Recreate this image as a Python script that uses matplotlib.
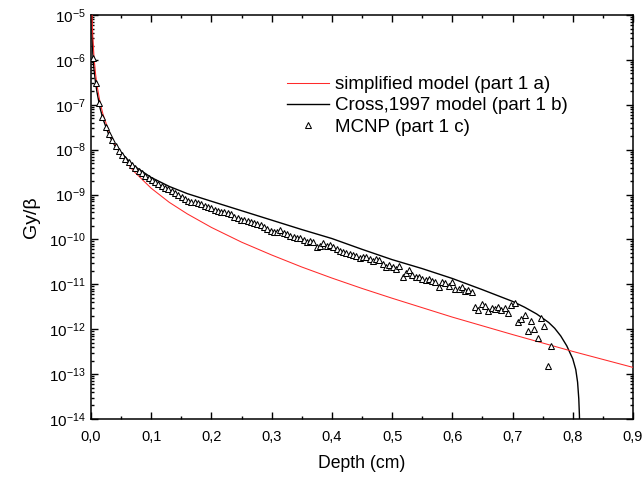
import numpy as np
import matplotlib
matplotlib.use("Agg")
import matplotlib.pyplot as plt
from matplotlib.ticker import FixedLocator, FuncFormatter, LogLocator, NullFormatter, LogFormatterMathtext

plt.rcParams['font.family'] = ['Liberation Sans', 'DejaVu Sans']
plt.rcParams['mathtext.fontset'] = 'custom'
plt.rcParams['mathtext.rm'] = 'Liberation Sans'
plt.rcParams['mathtext.it'] = 'Liberation Sans'
plt.rcParams['mathtext.default'] = 'regular'

# ---- data ----
simplified_depth = [0.001, 0.002, 0.003, 0.005, 0.0075, 0.01, 0.015, 0.02, 0.03, 0.04,
                    0.05, 0.07, 0.10, 0.13, 0.16, 0.20, 0.25, 0.30, 0.35, 0.40,
                    0.45, 0.50, 0.60, 0.70, 0.80, 0.90]
simplified_dose = [3.3e-5, 8.0e-6, 3.4e-6, 1.17e-6, 5.0e-7, 2.7e-7, 1.14e-7, 6.1e-8, 2.5e-8, 1.3e-8,
                   7.7e-9, 3.4e-9, 1.38e-9, 6.7e-10, 3.7e-10, 1.85e-10, 8.7e-11, 4.5e-11, 2.43e-11, 1.38e-11,
                   8.1e-12, 4.9e-12, 1.86e-12, 7.6e-13, 3.2e-13, 1.41e-13]

cross_depth = [0.001, 0.002, 0.003, 0.005, 0.0075, 0.01, 0.015, 0.02, 0.03, 0.04,
               0.05, 0.07, 0.10, 0.13, 0.16, 0.20, 0.25, 0.30, 0.35, 0.40,
               0.45, 0.50, 0.55, 0.60, 0.65, 0.70, 0.72, 0.74, 0.76, 0.77,
               0.78, 0.79, 0.80, 0.805, 0.808, 0.810, 0.811, 0.812]
cross_log10_dose = [-4.6, -5.4, -5.85, -6.2, -6.5, -6.72, -7.07, -7.32, -7.68, -7.92,
                    -8.07, -8.35, -8.62, -8.82, -8.98, -9.15, -9.36, -9.57, -9.78, -9.98,
                    -10.22, -10.45, -10.65, -10.87, -11.12, -11.38, -11.51, -11.66, -11.85, -11.98,
                    -12.15, -12.37, -12.66, -12.90, -13.18, -13.55, -13.9, -14.4]

mcnp_first_depth = 0.0025
mcnp_last_depth = 0.7637
mcnp_log10_dose = [
    -5.96, -6.52, -6.96, -7.28, -7.50, -7.66, -7.79, -7.92, -8.02, -8.11,
    -8.20, -8.27, -8.35, -8.41, -8.47, -8.53, -8.58, -8.63, -8.67, -8.72,
    -8.76, -8.81, -8.85, -8.88, -8.92, -8.96, -9.00, -9.06, -9.11, -9.135,
    -9.157, -9.172, -9.195, -9.217, -9.246, -9.268, -9.29, -9.343, -9.358, -9.38,
    -9.40, -9.417, -9.44, -9.506, -9.528, -9.565, -9.565, -9.588, -9.61, -9.625,
    -9.655, -9.677, -9.714, -9.766, -9.81, -9.825, -9.825, -9.788, -9.848, -9.877,
    -9.915, -9.952, -9.96, -9.974, -10.01, -10.064, -10.034, -10.05, -10.175, -10.145,
    -10.086, -10.145, -10.12, -10.175, -10.22, -10.25, -10.27, -10.31, -10.322, -10.345,
    -10.367, -10.405, -10.397, -10.382, -10.434, -10.47, -10.427, -10.456, -10.546, -10.605,
    -10.568, -10.605, -10.664, -10.583, -10.828, -10.739, -10.679, -10.791, -10.828, -10.843,
    -10.887, -10.902, -10.880, -10.924, -10.954, -11.05, -10.94, -10.977, -11.03, -10.94,
    -11.11, -11.11, -11.065, -11.147, -11.125, -11.16, -11.51, -11.57, -11.44, -11.48,
    -11.585, -11.53, -11.55, -11.51, -11.57, -11.53, -11.645, -11.456, -11.42, -11.83,
    -11.77, -11.68, -12.05, -11.815, -12.0, -12.2, -11.74, -11.93, -12.83, -12.37,
]
mcnp_depth = np.linspace(mcnp_first_depth, mcnp_last_depth, len(mcnp_log10_dose))

x_ticks = [0.0, 0.1, 0.2, 0.3, 0.4, 0.5, 0.6, 0.7, 0.8, 0.9]
labels = ["simplified model (part 1 a)", "Cross,1997 model (part 1 b)", "MCNP (part 1 c)"]

# ---- figure ----
fig = plt.figure(figsize=(6.44, 4.79), dpi=100)
ax = fig.add_axes([0.1413, 0.1253, 0.8416, 0.8434])

l_cross, = ax.plot(cross_depth, 10.0 ** np.array(cross_log10_dose), color='black', lw=1.0, zorder=2)
l_simp, = ax.plot(simplified_depth, simplified_dose, color='#ff2a2a', lw=0.75, zorder=3)
l_mcnp, = ax.plot(mcnp_depth, 10.0 ** np.array(mcnp_log10_dose), linestyle='none', marker='^',
                  markersize=4.3, markerfacecolor='white', markeredgecolor='black',
                  markeredgewidth=0.75, zorder=4)

ax.set_yscale('log')
ax.set_xlim(0, 0.9)
ax.set_ylim(1e-14, 1e-5)

ax.xaxis.set_major_locator(FixedLocator(x_ticks))
ax.xaxis.set_minor_locator(FixedLocator([t + 0.05 for t in x_ticks[:-1]]))
ax.xaxis.set_major_formatter(FuncFormatter(lambda v, p: f"{v:.1f}".replace('.', ',')))
ax.yaxis.set_major_locator(LogLocator(base=10, numticks=20))
ax.yaxis.set_minor_locator(LogLocator(base=10, subs=np.arange(2, 10), numticks=20))
ax.yaxis.set_minor_formatter(NullFormatter())
ax.yaxis.set_major_formatter(LogFormatterMathtext())

ax.tick_params(which='both', direction='in', top=True, right=True, width=1.0)
ax.tick_params(which='major', length=5)
ax.tick_params(which='minor', length=2.5)
ax.tick_params(axis='x', pad=8, labelsize=10.5)
ax.tick_params(axis='y', pad=4, labelsize=11)
for s in ax.spines.values():
    s.set_linewidth(1.1)

ax.set_xlabel("Depth (cm)", fontsize=12.7, labelpad=8)
ax.set_ylabel("Gy/β", fontsize=14, labelpad=6)

leg = ax.legend([l_simp, l_cross, l_mcnp], labels, loc='upper left',
                bbox_to_anchor=(0.362, 0.849), frameon=False, fontsize=13.5,
                handlelength=2.25, handletextpad=0.32, borderpad=0, borderaxespad=0,
                labelspacing=0.22, numpoints=1)

fig.savefig("out.png", dpi=100)
